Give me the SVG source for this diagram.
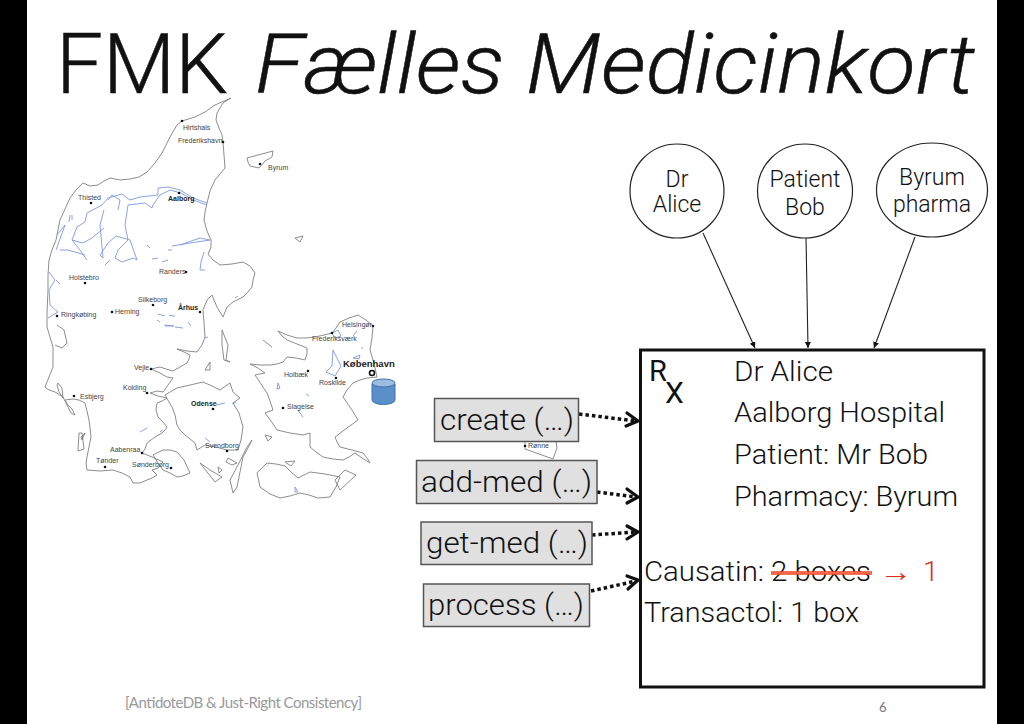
<svg xmlns="http://www.w3.org/2000/svg" width="1024" height="724" viewBox="0 0 1024 724">
<style>
.t{font-family:"Roboto","Liberation Sans",sans-serif;font-weight:300;fill:#111}
.ti{stroke:#111;stroke-width:.5}
.b{font-size:28px}
.op{font-size:30px}
.n{font-size:23px}
.box{fill:#e0e0e0;stroke:#555;stroke-width:1.5}
.c{fill:#fff;stroke:#222;stroke-width:1.2}
.coast{fill:none;stroke:#808080;stroke-width:.9;stroke-linejoin:round}
.lake{fill:none;stroke:#7b98dc;stroke-width:.9;stroke-linejoin:round}
.city{font-family:"Liberation Sans",sans-serif;font-size:7px;fill:#444}
.big{font-weight:700;fill:#222}
.dot{fill:#111}
.thin{stroke:#222;stroke-width:1.1;fill:none}
.dash{stroke:#111;stroke-width:3.500;stroke-dasharray:3.500 3;fill:none}
.head{stroke:#111;stroke-width:3.200;fill:none;stroke-linecap:round;stroke-linejoin:round}
</style>
<defs>
<marker id="small" markerWidth="7" markerHeight="7" refX="6" refY="3" orient="auto" markerUnits="userSpaceOnUse"><path d="M0,0L6,3L0,6Z" fill="#111"/></marker>
<filter id="soft" x="-2%" y="-2%" width="104%" height="104%"><feGaussianBlur stdDeviation=".3"/></filter>
</defs>
<rect width="1024" height="724" fill="#fff"/>
<rect x="0" y="0" width="27" height="724" fill="#000"/>
<rect x="997" y="0" width="27" height="724" fill="#000"/>
<text class="t ti" x="56" y="93" font-size="84" textLength="172" lengthAdjust="spacingAndGlyphs">FMK</text>
<text class="t ti" x="255" y="93" font-size="84" font-style="italic" textLength="720" lengthAdjust="spacingAndGlyphs">Fælles Medicinkort</text>
<g id="map">
<g filter="url(#soft)">
<path class="coast" d="M231,98L223,103L217,113L216,120L219,128L222,135L223,142L224,155L225,168L220,174L215,180L210,191L207,203L205,212L204,220L207,231L211,240L211,247L208,254L213,260L220,265L232,264L243,262L250,266L255,273L253,280L252,287L248,292L243,297L233,302L227,307L225,312L223,317L220,312L217,307L214,300L212,295L207,300L203,310L204,323L205,337L202,345L197,352L187,351L177,349L184,352L190,355L189,359L187,363L180,367L173,371L166,369L160,367L151,369L160,373L167,377L173,378L168,385L163,392L157,391L150,393L158,396L167,398L162,401L157,403L156,410L158,417L163,422L167,427L165,430L162,433L155,437L147,443L145,449L142,453L152,457L163,462L158,468L152,470L155,473L157,475L152,478L147,480L140,483L133,483L130,477L122,473L113,470L100,471L87,470L86,463L87,457L89,447L91,437L90,428L89,420L87,411L85,403L79,400L73,399L65,400L68,405L72,409L75,415L71,413L67,405L63,397L55,392L49,390L45,387L49,377L53,367L53,357L53,347L50,337L47,327L47,313L48,290L48,275L49,260L52,250L56,240L58,230L60,220L65,209L70,198L76,190L83,183L90,186L98,185L104,181L110,178L120,180L130,179L139,177L147,172L155,163L162,153L166,145L170,137L174,130L177,125L182,121L195,117L205,112L215,105Z"/>
<path class="coast" d="M57,325L64,330L67,343L62,348L55,345M58,383L62,388L63,398L59,392L57,385Z"/>
<path class="coast" d="M165,395L177,388L190,385L203,382L212,386L220,390L230,383L233,392L240,398L233,403L239,413L243,427L241,440L238,450L232,450L227,450L216,447L205,445L197,450L195,443L190,439L185,435L180,430L177,425L175,415L172,407Z"/>
<path class="coast" d="M153,455L163,450L170,450L177,452L184,460L190,473L183,476L177,477L170,473L163,470L158,463Z"/>
<path class="coast" d="M252,440L248,448L243,457L240,472L237,487L233,493L230,480L238,465L247,447Z M200,463L210,470L222,477L215,482Z M228,458L237,463L232,465L226,462Z M218,467L222,470L219,473Z M81,437L85,433L82,440Z M79,433L82,433L84,449L78,451Z M222,330L228,345L226,360L230,362L224,360L222,345Z M205,370L210,362L210,370Z"/>
<path class="coast" d="M373,326L366,320L358,315L349,318L340,322L336,328L332,333L324,335L315,337L306,338L297,338L287,335L278,331L282,336L287,340L297,344L307,348L307,354L305,360L296,358L287,357L283,362L277,364L270,365L260,365L250,364L258,368L265,373L260,374L255,375L261,384L267,393L270,401L273,410L265,413L271,421L277,430L290,433L303,435L310,433L310,440L310,447L316,452L323,457L333,459L343,460L349,457L355,453L362,458L370,463L367,458L363,453L352,450L340,447L337,442L335,437L347,428L358,420L352,410L343,397L347,390L353,383L360,380L367,378L377,377L374,363L370,350L372,338Z"/>
<path class="coast" d="M257,473L267,463L276,464L285,466L291,472L298,478L304,475L310,472L325,474L340,477L336,487L330,497L318,498L309,495L300,493L290,496L280,498L270,494L260,487Z M263,340L272,347M345,470L356,475L340,490L335,480Z M265,435L272,437L268,441Z M285,462L295,461L291,466Z"/>
<path class="coast" d="M247,158L258,155L273,151L272,157L265,161L259,168L250,166L248,162Z M295,238L303,236L300,242Z"/>
<path class="coast" d="M525,441L525,449L539,454L553,459L557,448L556,441"/>
<path class="lake" d="M207,203L193,198L180,190L168,187L158,188L158,195L140,197L130,200L122,194L108,198L102,205L87,213L85,222L77,227L72,240L80,250L87,260M207,205L193,200L181,193L170,190L160,195L153,205L152,208L145,203L128,205L125,225L128,240L118,250L115,258L122,262L133,258L137,260L130,240L116,236L108,243L100,255L103,258L100,225L104,210M72,240L83,243L92,238L104,228M56,250L65,225L57,235M85,255L68,250L60,250M210,240L190,243L172,246M210,240L200,238L180,245M204,252L201,262L200,270L205,270M118,210L120,200L112,195L108,200M70,215L69,222M72,215L72,220M150,248L147,245M158,258L152,259M172,250L168,250M168,260L162,262M105,265L110,260M49,272L55,280L49,290L50,305L58,312L48,318M56,280L60,284"/>
<path class="lake" d="M158,314L165,316M169,315L173,316M157,320L160,322M165,325L174,326L165,326ZM175,327L183,328M188,322L191,326M173,316L175,316M205,338L208,337M235,298L238,296M140,432L147,428M160,432L163,430M205,438L210,442M216,405L225,403M232,404L236,402"/>
<path class="lake" d="M332,333L338,330L341,336L335,338ZM333,350L341,366L335,376L326,372L332,366ZM357,331L353,336M360,355L353,358L359,359ZM361,348L363,348M278,383L280,388L277,389ZM306,394L309,396M298,410L303,417M295,487L298,492L295,492Z"/>
</g>
<g class="dots">
<circle class="dot" cx="182" cy="121" r="1.3"/><circle class="dot" cx="223" cy="142" r="1.3"/><circle class="dot" cx="260" cy="164" r="1.3"/><circle class="dot" cx="91" cy="203" r="1.3"/><circle class="dot" cx="179" cy="193" r="1.3"/><circle class="dot" cx="186" cy="272" r="1.3"/><circle class="dot" cx="85" cy="283" r="1.3"/><circle class="dot" cx="57" cy="316" r="1.3"/><circle class="dot" cx="112" cy="312" r="1.3"/><circle class="dot" cx="153" cy="305" r="1.3"/><circle class="dot" cx="200" cy="312" r="1.3"/><circle class="dot" cx="151" cy="369" r="1.3"/><circle class="dot" cx="147" cy="393" r="1.3"/><circle class="dot" cx="74" cy="396" r="1.3"/><circle class="dot" cx="213" cy="409" r="1.3"/><circle class="dot" cx="227" cy="451" r="1.3"/><circle class="dot" cx="142" cy="453" r="1.3"/><circle class="dot" cx="105" cy="467" r="1.3"/><circle class="dot" cx="171" cy="468" r="1.3"/><circle class="dot" cx="373" cy="326" r="1.3"/><circle class="dot" cx="332" cy="333" r="1.3"/><circle class="dot" cx="308" cy="371" r="1.3"/><circle class="dot" cx="336" cy="378" r="1.3"/><circle class="dot" cx="283" cy="408" r="1.3"/><circle class="dot" cx="525" cy="446" r="1.3"/>
</g>
<text class="city" x="183" y="130">Hirtshals</text>
<text class="city" x="178" y="143">Frederikshavn</text>
<text class="city" x="268" y="170">Byrum</text>
<text class="city" x="78" y="200">Thisted</text>
<text class="city big" x="168" y="201">Aalborg</text>
<text class="city" x="159" y="274">Randers</text>
<text class="city" x="69" y="280">Holstebro</text>
<text class="city" x="61" y="317">Ringkøbing</text>
<text class="city" x="115" y="314">Herning</text>
<text class="city" x="138" y="302">Silkeborg</text>
<text class="city big" x="178" y="310">Århus</text>
<text class="city" x="134" y="370">Vejle</text>
<text class="city" x="123" y="390">Kolding</text>
<text class="city" x="80" y="399">Esbjerg</text>
<text class="city big" x="191" y="406">Odense</text>
<text class="city" x="205" y="448">Svendborg</text>
<text class="city" x="110" y="452">Aabenraa</text>
<text class="city" x="96" y="463">Tønder</text>
<text class="city" x="132" y="467">Sønderborg</text>
<text class="city" x="342" y="327">Helsingør</text>
<text class="city" x="312" y="341">Frederiksværk</text>
<text class="city" x="284" y="377">Holbæk</text>
<text class="city" x="319" y="385">Roskilde</text>
<text class="city" x="287" y="409">Slagelse</text>
<text class="city" x="528" y="448">Rønne</text>
<text class="city big" x="343" y="367" style="font-size:9.500px">København</text>
<circle cx="372" cy="373" r="2.500" fill="#fff" stroke="#111" stroke-width="1.600"/>
</g>
<g id="database">
<path d="M372,384V400A11.500,4.500 0 0 0 395,400V384Z" fill="#5b8fc9" stroke="#3f72a8" stroke-width="1"/>
<ellipse cx="383.500" cy="383" rx="11.500" ry="4" fill="#9dbde0" stroke="#3f72a8" stroke-width="1"/>
</g>
<g id="connectors">
<path class="thin" marker-end="url(#small)" d="M703,233L755,348"/>
<path class="thin" marker-end="url(#small)" d="M806,237L808,348"/>
<path class="thin" marker-end="url(#small)" d="M915,237L874,348"/>
<path class="dash" d="M579,414L636,421"/><path class="head" d="M627,413L638,421L626,426"/>
<path class="dash" d="M597,492L636,497"/><path class="head" d="M627,489L638,497L627,503"/>
<path class="dash" d="M592,535L636,532"/><path class="head" d="M627,526L638,532L627,539"/>
<path class="dash" d="M591,591L636,581"/><path class="head" d="M627,576L638,580L628,589"/>
</g>
<g id="dr-alice"><ellipse class="c" cx="677" cy="191" rx="47" ry="47"/><text class="t n" x="677" y="187" text-anchor="middle">Dr</text><text class="t n" x="677" y="212" text-anchor="middle">Alice</text></g>
<g id="patient-bob"><ellipse class="c" cx="805" cy="191" rx="47.500" ry="47"/><text class="t n" x="805" y="187" text-anchor="middle">Patient</text><text class="t n" x="805" y="215" text-anchor="middle">Bob</text></g>
<g id="byrum-pharma"><ellipse class="c" cx="932" cy="190" rx="55.500" ry="47"/><text class="t n" x="932" y="185" text-anchor="middle">Byrum</text><text class="t n" x="932" y="212" text-anchor="middle">pharma</text></g>
<g id="op-create"><rect class="box" x="434.500" y="398.500" width="144" height="43"/><text class="t op" x="440" y="430" textLength="134" lengthAdjust="spacingAndGlyphs">create (…)</text></g>
<g id="op-add-med"><rect class="box" x="416.500" y="460.500" width="180.500" height="43"/><text class="t op" x="421" y="492" textLength="171" lengthAdjust="spacingAndGlyphs">add-med (…)</text></g>
<g id="op-get-med"><rect class="box" x="421" y="522" width="171" height="42.500"/><text class="t op" x="426" y="553" textLength="162" lengthAdjust="spacingAndGlyphs">get-med (…)</text></g>
<g id="op-process"><rect class="box" x="423.500" y="584" width="166" height="42.500"/><text class="t op" x="428" y="615" textLength="156" lengthAdjust="spacingAndGlyphs">process (…)</text></g>
<g id="prescription">
<rect x="640.500" y="350" width="343.500" height="337" fill="none" stroke="#111" stroke-width="3"/>
<text class="t" x="649" y="381" font-size="29" font-weight="400" style="font-weight:400">R</text>
<text class="t" x="665" y="403" font-size="30" style="font-weight:400">X</text>
<text class="t b" x="734" y="381" textLength="99" lengthAdjust="spacingAndGlyphs">Dr Alice</text>
<text class="t b" x="734" y="422" textLength="211" lengthAdjust="spacingAndGlyphs">Aalborg Hospital</text>
<text class="t b" x="734" y="464" textLength="194" lengthAdjust="spacingAndGlyphs">Patient: Mr Bob</text>
<text class="t b" x="734" y="506" textLength="224" lengthAdjust="spacingAndGlyphs">Pharmacy: Byrum</text>
<text class="t b" x="644" y="581" textLength="120" lengthAdjust="spacingAndGlyphs">Causatin:</text>
<text class="t b" x="771" y="581" textLength="100" lengthAdjust="spacingAndGlyphs">2 boxes</text>
<path d="M771,573H872" stroke="#f0431f" stroke-width="3.500" fill="none"/>
<path d="M771,573H872" stroke="#ffb9a8" stroke-width=".6" fill="none"/>
<text x="879" y="581" font-family="Liberation Sans,sans-serif" font-size="27" fill="#d8301a" textLength="33" lengthAdjust="spacingAndGlyphs">→</text>
<text class="t b" x="923" y="581" style="fill:#d8301a">1</text>
<text class="t b" x="644" y="622" textLength="215" lengthAdjust="spacingAndGlyphs">Transactol: 1 box</text>
</g>
<text x="125" y="708" font-family="Lato,sans-serif" font-size="15" fill="#999" textLength="237">[AntidoteDB &amp; Just-Right Consistency]</text>
<text x="879" y="712" font-family="Lato,sans-serif" font-size="13" fill="#777">6</text>
</svg>
